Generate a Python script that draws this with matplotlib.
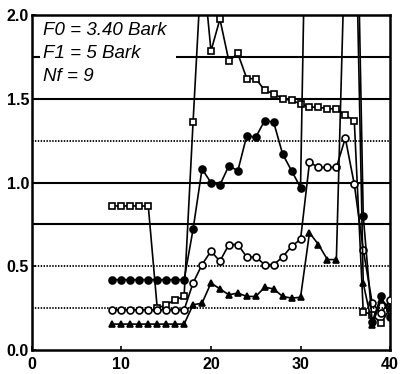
import matplotlib.pyplot as plt
from matplotlib.patches import Rectangle

# frequency axis (Bark) shared by all four curves
x = list(range(9, 41))

squares = [0.86, 0.86, 0.86, 0.86, 0.86, 0.25, 0.27, 0.30, 0.32, 1.36,
           2.35, 1.785, 1.975, 1.725, 1.77, 1.62, 1.62, 1.55, 1.53, 1.50,
           1.49, 1.47, 1.45, 1.45, 1.44, 1.44, 1.40, 1.37, 0.23, 0.21,
           0.16, 0.25]
open_circles = [0.24] * 9 + [0.40, 0.51, 0.59, 0.53, 0.63, 0.63, 0.555,
                             0.555, 0.51, 0.51, 0.555, 0.62, 0.66, 1.12,
                             1.09, 1.09, 1.09, 1.265, 0.99, 0.60, 0.28,
                             0.22, 0.30]
filled_circles = [0.42] * 9 + [0.72, 1.08, 1.00, 0.985, 1.10, 1.07, 1.28,
                               1.27, 1.37, 1.36, 1.17, 1.07, 0.97, 4.0,
                               4.0, 4.0, 4.0, 4.0, 3.6, 0.80, 0.17, 0.32,
                               0.20]
triangles = [0.155] * 9 + [0.27, 0.28, 0.40, 0.365, 0.33, 0.34, 0.32,
                           0.32, 0.375, 0.365, 0.32, 0.31, 0.315, 0.70,
                           0.63, 0.54, 0.54, 2.5, 3.0, 0.40, 0.15, 0.30,
                           0.25]

xticks = [0, 10, 20, 30, 40]
yticks = [0.0, 0.5, 1.0, 1.5, 2.0]
solid_grid = [0.75, 1.0, 1.5, 1.75]
dotted_grid = [0.25, 0.5, 1.25]

fig = plt.figure(figsize=(4.03, 3.74), dpi=100)
ax = fig.add_axes([0.079, 0.064, 0.889, 0.896])

for y in solid_grid:
    ax.axhline(y, color='black', lw=1.5, zorder=1)
for y in dotted_grid:
    ax.axhline(y, color='black', lw=1.3, ls=(0, (0.8, 0.8)), zorder=1)

common = dict(color='black', lw=1.2, ms=5, mew=1.2, zorder=3)
ax.plot(x, squares, marker='s', mfc='white', **common)
ax.plot(x, open_circles, marker='o', mfc='white', **common)
ax.plot(x, filled_circles, marker='o', mfc='black', **common)
ax.plot(x, triangles, marker='^', mfc='black', **common)

ax.set_xlim(0, 40)
ax.set_ylim(0, 2)
ax.set_xticks(xticks)
ax.set_yticks(yticks)
ax.set_xticklabels([str(t) for t in xticks])
ax.set_yticklabels([f'{t:.1f}' for t in yticks])
ax.tick_params(length=3, width=1.2, direction='in', pad=2)
ax.tick_params(axis='x', pad=5)
for lab in ax.get_xticklabels() + ax.get_yticklabels():
    lab.set_fontweight('bold')
    lab.set_fontsize(11.5)
    lab.set_family(['Liberation Sans', 'DejaVu Sans'])
for s in ax.spines.values():
    s.set_linewidth(1.8)

# white patch behind the parameter block hides the grid there
ax.add_patch(Rectangle((0.9, 1.58), 15.2, 0.41, facecolor='white',
                       edgecolor='none', zorder=2))
info = 'F0 = 3.40 Bark\nF1 = 5 Bark\nNf = 9'
ax.text(1.2, 1.955, info, va='top', ha='left',
        fontsize=13.5, style='italic', linespacing=1.45,
        family=['Liberation Sans Narrow', 'Liberation Sans', 'DejaVu Sans'],
        zorder=4)

fig.savefig('out.png', dpi=100)
